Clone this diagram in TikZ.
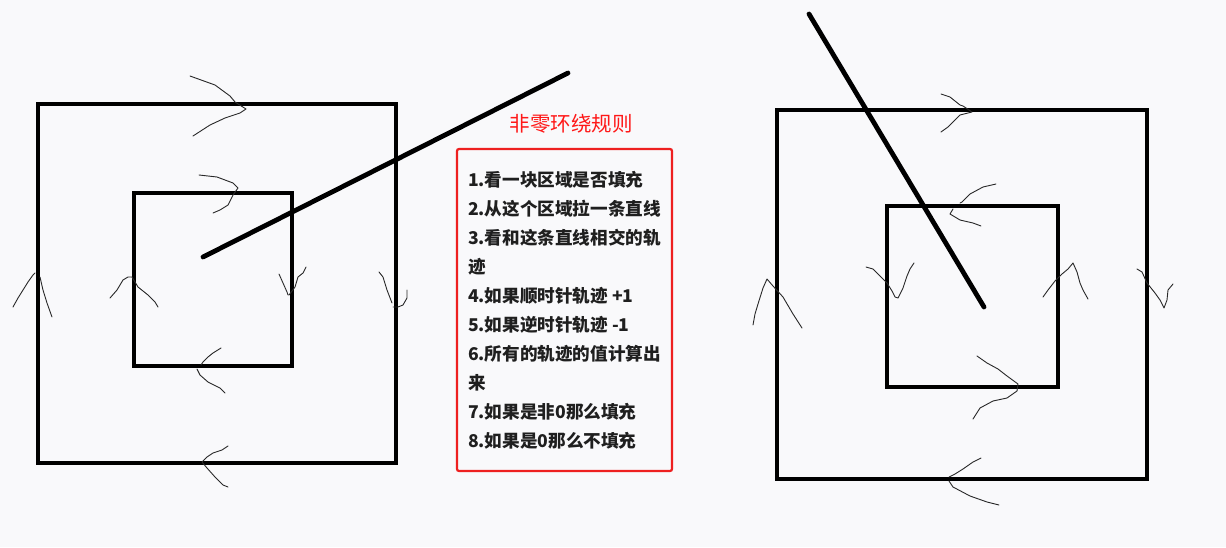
\documentclass[tikz,border=0pt]{standalone}
\usepackage{fontspec}
\usepackage{tikz}
\newfontfamily\cjk{Noto Sans CJK SC}
\definecolor{bgpaper}{RGB}{249,249,251}
\definecolor{rulered}{RGB}{238,32,32}
\definecolor{titlered}{RGB}{255,24,24}
\definecolor{pen}{RGB}{40,40,40}
\tikzset{
  sqr/.style={draw=black, line width=4.6pt},
  ray/.style={draw=black, line width=4.8pt, line cap=round},
  hand/.style={draw=pen, line width=0.9pt, line join=round, line cap=round},
  rulebox/.style={
    draw=rulered, line width=2.2pt, rounded corners=2pt,
    align=left, inner sep=0pt, text=black!88,
    font=\cjk\bfseries\fontsize{17.6}{29}\selectfont,
    minimum width=215pt, minimum height=322pt
  },
  rtitle/.style={font=\cjk\fontsize{20.5}{24}\selectfont, text=titlered, inner sep=0pt}
}

\begin{document}
\begin{tikzpicture}[x=1pt, y=-1pt]
  \useasboundingbox[fill=bgpaper] (0,0) rectangle (1226,547);

  % left picture: ray leaves from inside the inner square
  \draw[sqr] (38,104) rectangle (396,463);
  \draw[sqr] (134,193) rectangle (292,366);
  \draw[ray] (203,257) -- (568,73);

  % hand drawn direction marks, left
  \draw[hand] (190,76) -- (215,85) -- (230,96) -- (235,102) -- (246,109)
              -- (240,113) -- (225,118) -- (210,125) -- (193,136);
  \draw[hand] (199,175) -- (217,177) -- (233,183) -- (238,188)
              -- (233,195) -- (228,205) -- (220,210) -- (213,213);
  \draw[hand] (279,274) -- (283,283) -- (287,292) -- (288,295)
              (306,267) -- (303,273) -- (298,277) -- (295,287) -- (289,295);
  \draw[hand] (379,272) -- (383,277) -- (387,290) -- (392,303)
              (407,290) -- (407,298) -- (403,305) -- (398,307) -- (393,307);
  \draw[hand] (110,298) -- (117,290) -- (123,280) -- (128,277) -- (132,277)
              -- (138,287) -- (148,295) -- (155,302) -- (158,307);
  \draw[hand] (13,307) -- (18,298) -- (23,290) -- (28,282) -- (33,275) -- (35,273)
              (40,277) -- (43,290) -- (47,303) -- (52,317);
  \draw[hand] (221,348) -- (213,353) -- (208,357) -- (203,362) -- (201,365)
              (197,369) -- (200,375) -- (208,382) -- (220,388) -- (225,393);
  \draw[hand] (228,446) -- (222,450) -- (213,453) -- (207,457) -- (202,462)
              -- (207,468) -- (215,477) -- (223,485) -- (228,487);

  % rule list
  \node[rtitle] (title) at (571,124) {非零环绕规则};
  \node[rulebox] (rules) at (564.5,310) {1.看一块区域是否填充\\
    2.从这个区域拉一条直线\\
    3.看和这条直线相交的轨\\
    迹\\
    4.如果顺时针轨迹 +1\\
    5.如果逆时针轨迹 -1\\
    6.所有的轨迹的值计算出\\
    来\\
    7.如果是非0那么填充\\
    8.如果是0那么不填充};

  % right picture
  \draw[sqr] (777,110) rectangle (1147,479);
  \draw[sqr] (887,206) rectangle (1058,387);
  \draw[ray] (809,14) -- (984,307);

  % hand drawn direction marks, right
  \draw[hand] (941,94) -- (950,97) -- (960,105) -- (963,106) -- (972,112)
              -- (960,115) -- (953,122) -- (948,127) -- (941,132);
  \draw[hand] (996,184) -- (983,187) -- (970,194) -- (962,202) -- (960,203)
              (953,209) -- (950,214) -- (960,220) -- (973,223) -- (981,226);
  \draw[hand] (866,267) -- (873,269) -- (883,279) -- (887,283) -- (892,291) -- (895,297) -- (898,298)
              -- (903,288) -- (907,276) -- (910,269) -- (914,263);
  \draw[hand] (1043,297) -- (1048,290) -- (1055,281) -- (1062,274) -- (1068,269) -- (1073,263)
              -- (1077,272) -- (1080,283) -- (1083,290) -- (1088,299);
  \draw[hand] (753,325) -- (755,314) -- (758,304) -- (763,288) -- (767,279)
              -- (773,286) -- (783,297) -- (793,314) -- (802,328);
  \draw[hand] (1137,269) -- (1142,272) -- (1147,283) -- (1155,293) -- (1160,300) -- (1164,308)
              -- (1167,300) -- (1168,290) -- (1173,284);
  \draw[hand] (977,356) -- (987,363) -- (998,369) -- (1007,376) -- (1018,384)
              -- (1017,391) -- (1007,398) -- (993,401) -- (980,408) -- (973,419);
  \draw[hand] (981,458) -- (973,462) -- (963,469) -- (955,474) -- (949,477)
              (949,481) -- (953,487) -- (970,496) -- (987,502) -- (999,505);
\end{tikzpicture}
\end{document}
